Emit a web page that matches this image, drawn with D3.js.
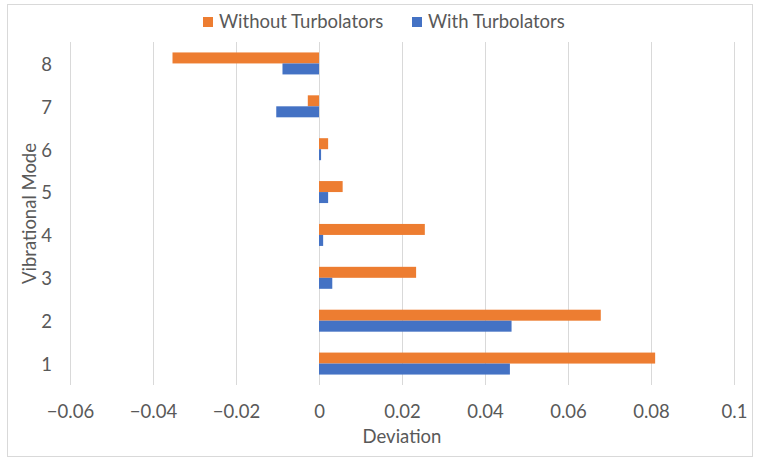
<!DOCTYPE html>
<html>
<head>
<meta charset="utf-8">
<script src="https://cdn.jsdelivr.net/npm/d3@7"></script>
<style>
  html, body { margin: 0; padding: 0; background: #fff; }
</style>
</head>
<body>
<script>
// Data
const modes = ["1", "2", "3", "4", "5", "6", "7", "8"];
const seriesNames = ["Without Turbolators", "With Turbolators"];
const withoutTurbolators = [0.0810, 0.0679, 0.0234, 0.0255, 0.0057, 0.0022, -0.0027, -0.0353];
const withTurbolators = [0.0460, 0.0464, 0.0032, 0.0010, 0.0022, 0.0005, -0.0103, -0.0088];
const xTicks = [-0.06, -0.04, -0.02, 0, 0.02, 0.04, 0.06, 0.08, 0.1];

const width = 761;
const height = 464;
const margin = { top: 42, right: 27, bottom: 79, left: 70 };
const colors = { "Without Turbolators": "#ED7D31", "With Turbolators": "#4472C4" };
const textColor = "#595959";
const font = "Lato, 'Open Sans', sans-serif";
const fontSize = "18.5px";

const rows = modes.map((m, i) => ({
  mode: m,
  values: [
    { series: seriesNames[0], value: withoutTurbolators[i] },
    { series: seriesNames[1], value: withTurbolators[i] },
  ],
}));

const x = d3.scaleLinear()
  .domain([-0.06, 0.1])
  .range([margin.left, width - margin.right]);

// mode 8 at the top
const y = d3.scaleBand()
  .domain([...modes].reverse())
  .range([margin.top, height - margin.bottom])
  .padding(0);

const ySub = d3.scaleBand()
  .domain(seriesNames)
  .range([0, y.bandwidth()])
  .paddingInner(0)
  .paddingOuter(0.95);

const svg = d3.select("body").append("svg")
  .attr("width", width)
  .attr("height", height)
  .style("font-family", font)
  .style("display", "block");

svg.append("rect")
  .attr("x", 7.5).attr("y", 4.5)
  .attr("width", 745).attr("height", 452)
  .attr("fill", "#fff")
  .attr("stroke", "#d9d9d9");

// vertical gridlines
svg.append("g")
  .selectAll("line")
  .data(xTicks)
  .join("line")
  .attr("x1", d => Math.round(x(d)) + 0.5)
  .attr("x2", d => Math.round(x(d)) + 0.5)
  .attr("y1", margin.top)
  .attr("y2", height - margin.bottom)
  .attr("stroke", "#d9d9d9")
  .attr("stroke-width", 1);

// x axis labels
const xAxis = svg.append("g")
  .attr("transform", `translate(0,${height - margin.bottom})`)
  .call(d3.axisBottom(x).tickValues(xTicks).tickSize(0)
    .tickFormat(d => d3.format("")(+d.toFixed(2)).replace("-", "\u2212")));
xAxis.select(".domain").remove();
xAxis.selectAll("text")
  .attr("y", 33)
  .attr("dy", null)
  .attr("fill", textColor)
  .style("font-size", fontSize)
  .style("font-family", font);

// y axis labels
const yAxis = svg.append("g")
  .attr("transform", `translate(${margin.left},0)`)
  .call(d3.axisLeft(y).tickSize(0).tickPadding(18));
yAxis.select(".domain").remove();
yAxis.selectAll("text")
  .attr("dy", "0.4em")
  .attr("fill", textColor)
  .style("font-size", fontSize)
  .style("font-family", font);

// bars
const groups = svg.append("g")
  .selectAll("g")
  .data(rows)
  .join("g")
  .attr("transform", d => `translate(0,${y(d.mode)})`);

groups.selectAll("rect")
  .data(d => d.values)
  .join("rect")
  .attr("x", d => x(Math.min(0, d.value)))
  .attr("y", d => ySub(d.series))
  .attr("width", d => Math.abs(x(d.value) - x(0)))
  .attr("height", ySub.bandwidth())
  .attr("fill", d => colors[d.series]);

// axis titles
svg.append("text")
  .attr("x", (x.range()[0] + x.range()[1]) / 2)
  .attr("y", 443)
  .attr("text-anchor", "middle")
  .attr("fill", textColor)
  .style("font-size", fontSize)
  .text("Deviation");

svg.append("text")
  .attr("transform", `translate(36,${(margin.top + height - margin.bottom) / 2}) rotate(-90)`)
  .attr("text-anchor", "middle")
  .attr("fill", textColor)
  .style("font-size", fontSize)
  .text("Vibrational Mode");

// legend
const legendX = [203, 412];
const legend = svg.append("g")
  .selectAll("g")
  .data(seriesNames)
  .join("g")
  .attr("transform", (d, i) => `translate(${legendX[i]},17)`);

legend.append("rect")
  .attr("width", 10).attr("height", 10)
  .attr("fill", d => colors[d]);

legend.append("text")
  .attr("x", 16)
  .attr("y", 11)
  .attr("fill", textColor)
  .style("font-size", fontSize)
  .text(d => d);
</script>
</body>
</html>
